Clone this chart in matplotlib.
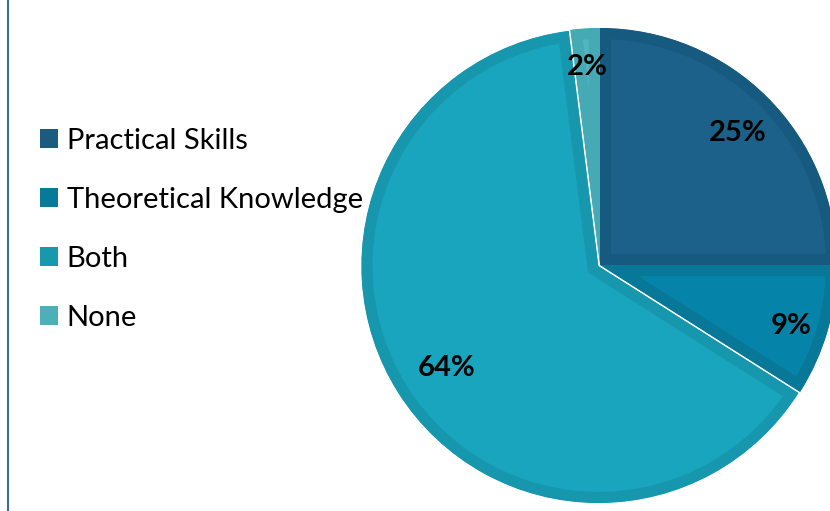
import numpy as np
import matplotlib
matplotlib.use('Agg')
import matplotlib.pyplot as plt
import matplotlib.patches as mpatches
import matplotlib.transforms as mtransforms
from matplotlib.lines import Line2D

categories = ['Practical Skills', 'Theoretical Knowledge', 'Both', 'None']
values = [25, 9, 64, 2]
fill_colors = ['#1B6189', '#0683A8', '#18A5BD', '#52B6C0']
edge_colors = ['#175A80', '#077898', '#1797AD', '#45AAB4']
legend_colors = ['#1B5B80', '#077A9A', '#1898AC', '#4DB0B9']
explode = [0, 0, 0.008, 0]
label_dist = [0.82, 0.84, 0.76, 0.86]

plt.rcParams['font.family'] = ['Lato', 'DejaVu Sans']

W, H = 830, 511
fig = plt.figure(figsize=(W / 100, H / 100), dpi=100)
ax = fig.add_axes([0, 0, 1, 1])

wedges, _ = ax.pie(values, colors=fill_colors, startangle=90, counterclock=False,
                   explode=explode, radius=1)
lbl_tr = mtransforms.offset_copy(ax.transData, fig=fig, x=0, y=-5, units='dots')
for w, ec, d, v in zip(wedges, edge_colors, label_dist, values):
    # darker inner rim: stroke clipped to the wedge itself
    w.set_edgecolor(ec)
    w.set_linewidth(16)
    w.set_clip_path(w)
    w.set_clip_on(True)
    mid = np.deg2rad((w.theta1 + w.theta2) / 2)
    ox, oy = w.center
    ax.text(ox + d * np.cos(mid), oy + d * np.sin(mid), f'{v}%', ha='center',
            va='center', fontsize=21, fontweight='bold', color='black', transform=lbl_tr)

# pie centre at pixel (600, 265), radius 237 px
cx, cy, R = 600, 265, 237
ax.set_aspect('auto')
ax.set_xlim(-cx / R, (W - cx) / R)
ax.set_ylim(-(H - cy) / R, cy / R)
ax.axis('off')

handles = [mpatches.Patch(facecolor=c, edgecolor='none') for c in legend_colors]
fig.legend(handles, categories, loc='upper left', bbox_to_anchor=(40 / W, 1 - 128 / H),
           frameon=False, fontsize=21, handlelength=0.62, handleheight=0.62,
           handletextpad=0.3, labelspacing=1.13, borderaxespad=0, borderpad=0)

fig.add_artist(Line2D([8 / W, 8 / W], [0, 1], color='#3A6E9E', linewidth=1.5,
                      transform=fig.transFigure))

fig.savefig('out.png', dpi=100)
